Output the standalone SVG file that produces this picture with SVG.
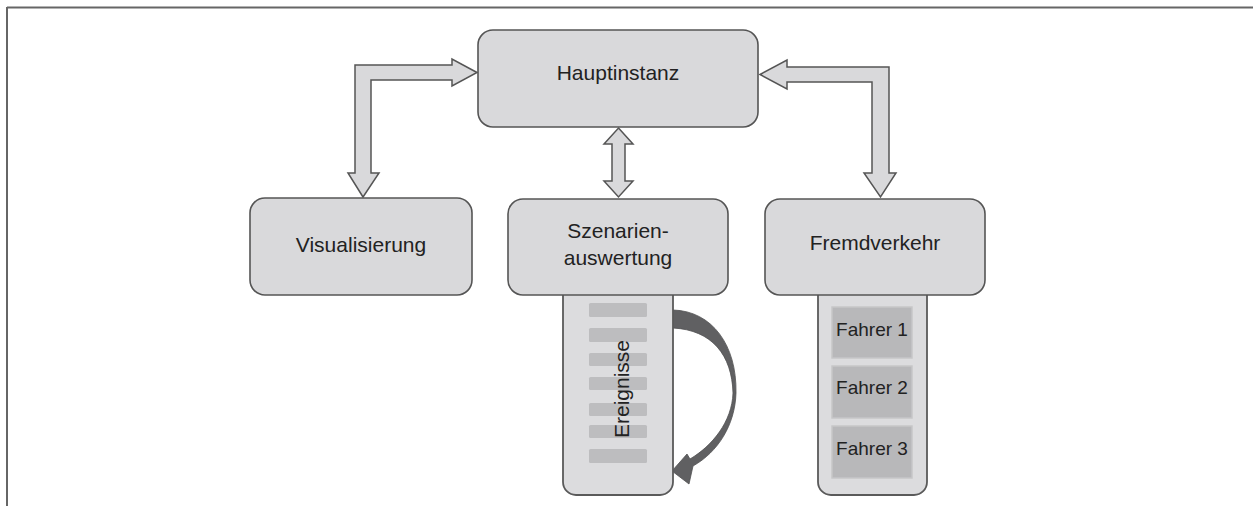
<svg xmlns="http://www.w3.org/2000/svg" width="1253" height="506" viewBox="0 0 1253 506">
  <style>
    .box { fill: #d9d9db; stroke: #555; stroke-width: 1.6; }
    .col { fill: #dcdcde; stroke: #5a5a5a; stroke-width: 1.8; }
    .stripe { fill: #bdbdbf; }
    .slot { fill: #b8b8ba; stroke: #c6c6c8; stroke-width: 1.5; }
    .conn { fill: #d9d9db; stroke: #555; stroke-width: 1.5; stroke-linejoin: miter; }
    .label { font-family: "Liberation Sans", Arial, sans-serif; font-size: 21px; fill: #222; text-anchor: middle; }
    .small { font-size: 19px; }
  </style>

  <!-- frame: top and left rule -->
  <g id="frame" fill="none" stroke="#666" stroke-width="2">
    <line x1="7" y1="7.5" x2="1253" y2="7.5"/>
    <line x1="7" y1="7" x2="7" y2="506"/>
  </g>

  <!-- connectors -->
  <g id="connectors">
    <!-- Hauptinstanz <-> Visualisierung -->
    <path class="conn" d="M477 72.5 L452 59 L452 65 L355 65 L355 173 L348 173 L363 197 L379 173 L371 173 L371 80 L452 80 L452 86 Z"/>
    <!-- Hauptinstanz <-> Fremdverkehr -->
    <path class="conn" d="M760 74.5 L787 60 L787 67 L889 67 L889 173 L896 173 L880.5 197 L864 173 L872 173 L872 82 L787 82 L787 89 Z"/>
    <!-- Hauptinstanz <-> Szenarienauswertung -->
    <path class="conn" d="M618.5 128 L633 144 L625 144 L625 181 L633 181 L618.5 197 L604 181 L612 181 L612 144 L604 144 Z"/>
    <!-- event loop back to the start of the list -->
    <path fill="#606062" stroke="#505052" stroke-width="0.8" d="M673 310 C712 311 737 345 736 393 C735 425 718 452 693 466 L689 484 L672 471 L687 454 L690 459 C712 446 732 422 733 393 C732 355 712 330 673 328 Z"/>
  </g>

  <!-- Hauptinstanz -->
  <g id="node-hauptinstanz">
    <rect class="box" x="478" y="30" width="280" height="97" rx="15"/>
    <text class="label" x="618" y="80">Hauptinstanz</text>
  </g>

  <!-- Visualisierung -->
  <g id="node-visualisierung">
    <rect class="box" x="250" y="198" width="222" height="97" rx="15"/>
    <text class="label" x="361" y="252">Visualisierung</text>
  </g>

  <!-- Szenarienauswertung with event list -->
  <g id="node-szenarien">
    <rect class="col" x="563" y="280" width="110" height="215" rx="13"/>
    <rect class="stripe" x="589" y="303" width="58" height="14" rx="1.5"/>
    <rect class="stripe" x="589" y="328" width="58" height="14" rx="1.5"/>
    <rect class="stripe" x="589" y="353" width="58" height="13" rx="1.5"/>
    <rect class="stripe" x="589" y="377" width="58" height="13" rx="1.5"/>
    <rect class="stripe" x="589" y="403" width="58" height="13" rx="1.5"/>
    <rect class="stripe" x="589" y="425" width="58" height="13" rx="1.5"/>
    <rect class="stripe" x="589" y="449" width="58" height="14" rx="1.5"/>
    <text class="label" transform="translate(629 389) rotate(-90)" x="0" y="0">Ereignisse</text>
    <rect class="box" x="508" y="199" width="220" height="96" rx="15"/>
    <text class="label" x="618" y="238">Szenarien-</text>
    <text class="label" x="618" y="265">auswertung</text>
  </g>

  <!-- Fremdverkehr with drivers -->
  <g id="node-fremdverkehr">
    <rect class="col" x="818" y="280" width="109" height="215" rx="13"/>
    <rect class="slot" x="832" y="307" width="80" height="51"/>
    <rect class="slot" x="832" y="366" width="80" height="52"/>
    <rect class="slot" x="832" y="426" width="80" height="52"/>
    <text class="label small" x="872" y="336">Fahrer 1</text>
    <text class="label small" x="872" y="394">Fahrer 2</text>
    <text class="label small" x="872" y="455">Fahrer 3</text>
    <rect class="box" x="765" y="199" width="220" height="96" rx="15"/>
    <text class="label" x="875" y="250">Fremdverkehr</text>
  </g>
</svg>
